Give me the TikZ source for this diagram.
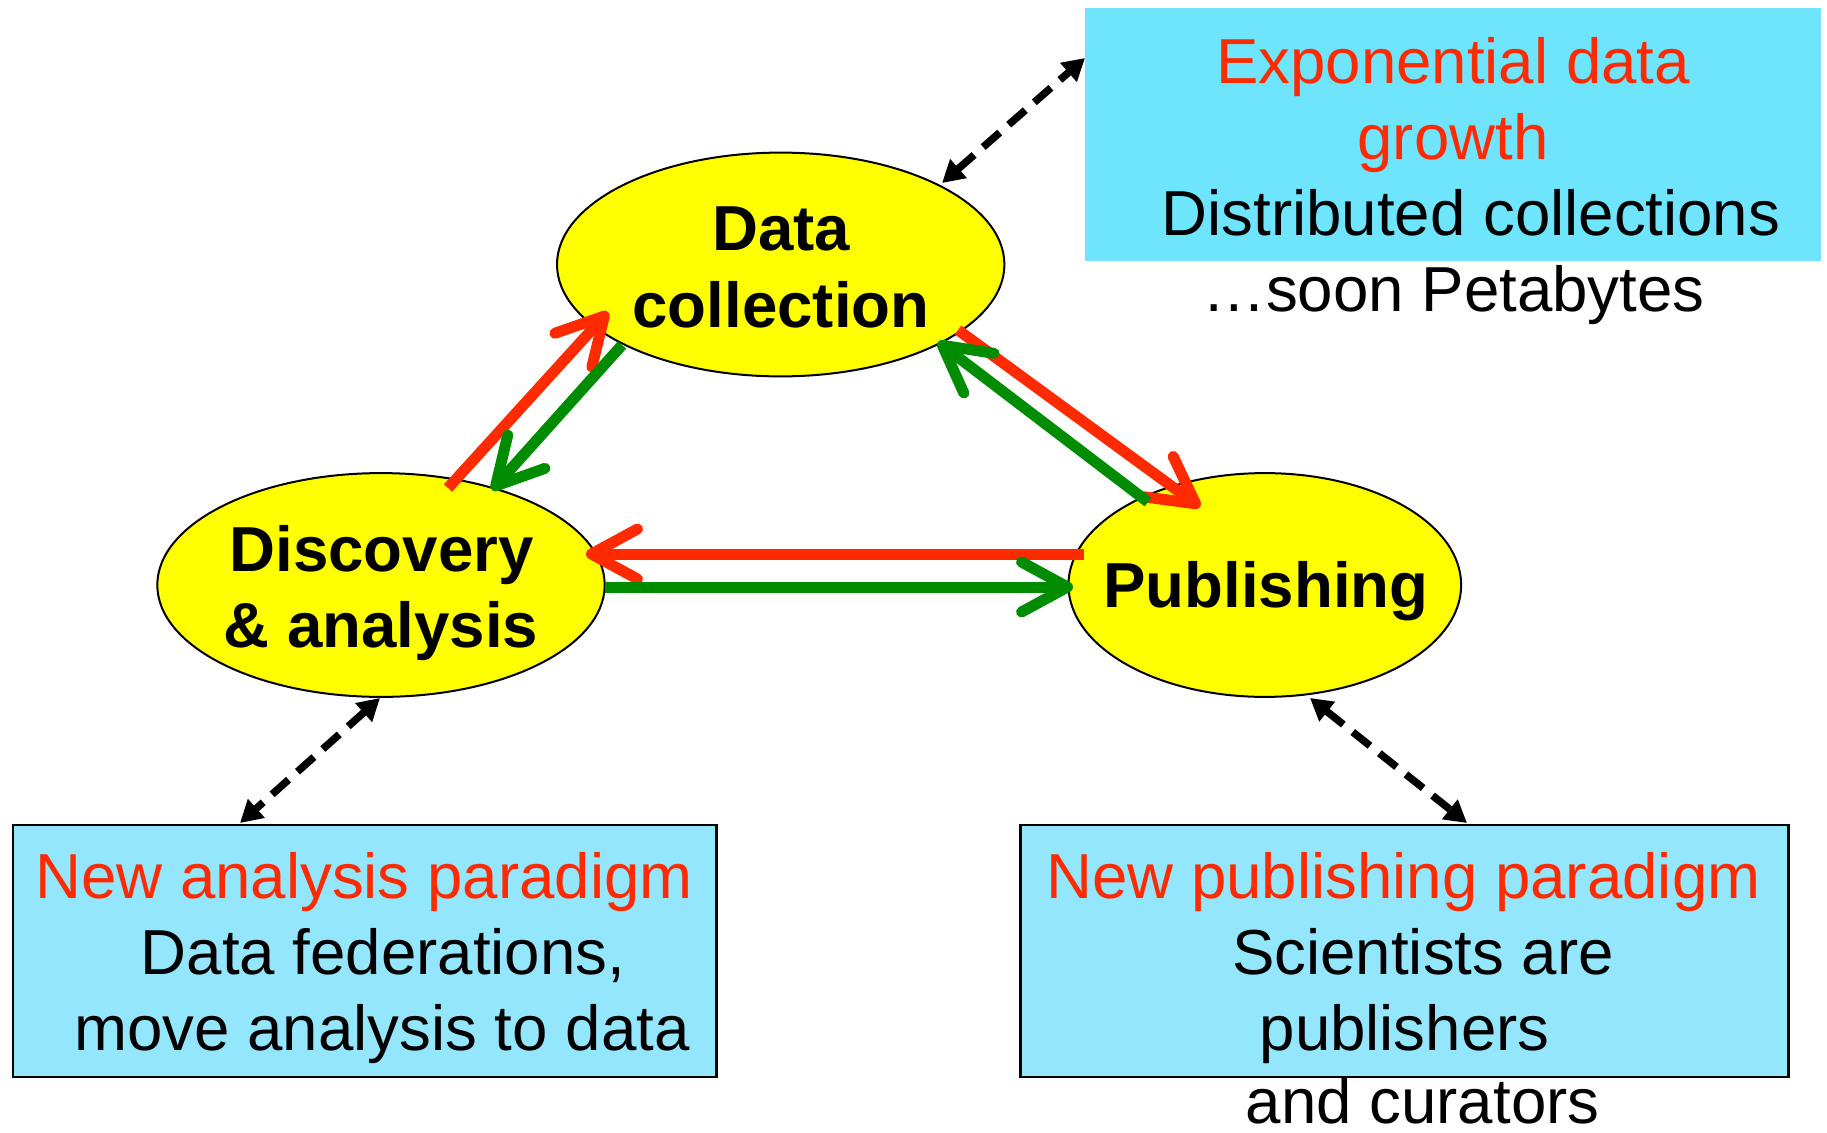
\documentclass[tikz,border=0pt]{standalone}
\usepackage{fontspec}
\setmainfont{Liberation Sans}
\usetikzlibrary{shapes.geometric,arrows.meta}

\definecolor{hotred}{RGB}{255,42,0}
\definecolor{flowgreen}{RGB}{0,140,0}
\definecolor{topcyan}{RGB}{110,229,253}
\definecolor{boxcyan}{RGB}{148,230,252}
\definecolor{bubbleyellow}{RGB}{255,255,0}

\tikzset{
  bubble/.style={ellipse, draw=black, line width=2pt, fill=bubbleyellow,
    inner sep=0pt, minimum height=223.8pt},
  infobox/.style={rectangle, draw=black, line width=2.5pt, fill=boxcyan,
    inner sep=0pt, minimum height=252pt},
  txt/.style={anchor=base, inner sep=0pt, text depth=0pt,
    font=\fontsize{63.6pt}{76pt}\selectfont},
  btxt/.style={txt, font=\fontsize{63.6pt}{76pt}\selectfont\bfseries},
  flow/.style={line width=11pt,
    -{Straight Barb[length=46pt, width=50pt, round]}},
  link/.style={line width=7.5pt, dash pattern=on 22pt off 12pt,
    {Triangle[length=22pt, width=24pt]}-{Triangle[length=22pt, width=24pt]}}
}

\begin{document}
\begin{tikzpicture}[x=1pt, y=-1pt]
  \useasboundingbox (0,0) rectangle (1827,1132);

  % the three stages
  \node[bubble, minimum width=447.4pt] (dc)  at (780.7,264.5) {};
  \node[bubble, minimum width=447.4pt] (da)  at (381,585) {};
  \node[bubble, minimum width=392.7pt] (pub) at (1264.8,585) {};

  \node[btxt] (dct1) at (781,250) {Data};
  \node[btxt] (dct2) at (781,327) {collection};
  \node[btxt] (dat1) at (381.5,571) {Discovery};
  \node[btxt] (dat2) at (381,647) {\& analysis};
  \node[btxt] (pubt) at (1266,607) {Publishing};

  % information boxes
  \node[rectangle, fill=topcyan, inner sep=0pt, minimum width=736pt,
        minimum height=253pt] (gbox) at (1453,134.5) {};
  \node[infobox, minimum width=703.8pt] (abox) at (364.7,951) {};
  \node[infobox, minimum width=767.9pt] (pbox) at (1404.6,951) {};

  \node[txt, text=hotred] (g1) at (1453,83) {Exponential data};
  \node[txt, text=hotred] (g2) at (1453,159) {growth};
  \node[txt] (g3) at (1471,235) {Distributed collections};
  \node[txt] (g4) at (1453.5,311) {…soon Petabytes};

  \node[txt, text=hotred] (a1) at (364,898) {New analysis paradigm};
  \node[txt] (a2) at (383,974) {Data federations,};
  \node[txt] (a3) at (382,1050) {move analysis to data};

  \node[txt, text=hotred] (p1) at (1403.5,898) {New publishing paradigm};
  \node[txt] (p2) at (1423,974) {Scientists are};
  \node[txt] (p3) at (1404.6,1050) {publishers};
  \node[txt] (p4) at (1422.7,1123) {and curators};

  % arrow end points between the stages
  \coordinate (daUp)    at (448,488);
  \coordinate (dcIn)    at (608,312);
  \coordinate (dcDown)  at (622,345);
  \coordinate (daIn)    at (492,490);
  \coordinate (dcRight) at (958,330);
  \coordinate (pubIn)   at (1200,507);
  \coordinate (pubUp)   at (1148,502);
  \coordinate (dcIn2)   at (938,342);
  \coordinate (pubLeft) at (1084,554);
  \coordinate (daIn2)   at (586,554);
  \coordinate (daRight) at (605,587);
  \coordinate (pubIn2)  at (1073,587);

  \draw[flow, hotred]    (daUp) -- (dcIn);
  \draw[flow, flowgreen] (dcDown) -- (daIn);
  \draw[flow, hotred]    (dcRight) -- (pubIn);
  \draw[flow, flowgreen] (pubUp) -- (dcIn2);
  \draw[flow, hotred]    (pubLeft) -- (daIn2);
  \draw[flow, flowgreen] (daRight) -- (pubIn2);

  % dashed links to the boxes
  \coordinate (gEnd)   at (1085,58);
  \coordinate (dcEnd)  at (942,183);
  \coordinate (daEnd)  at (380,698);
  \coordinate (aEnd)   at (240,823);
  \coordinate (pubEnd) at (1310,698);
  \coordinate (pEnd)   at (1467,823);

  \draw[link] (dcEnd) -- (gEnd);
  \draw[link] (daEnd) -- (aEnd);
  \draw[link] (pubEnd) -- (pEnd);
\end{tikzpicture}
\end{document}
